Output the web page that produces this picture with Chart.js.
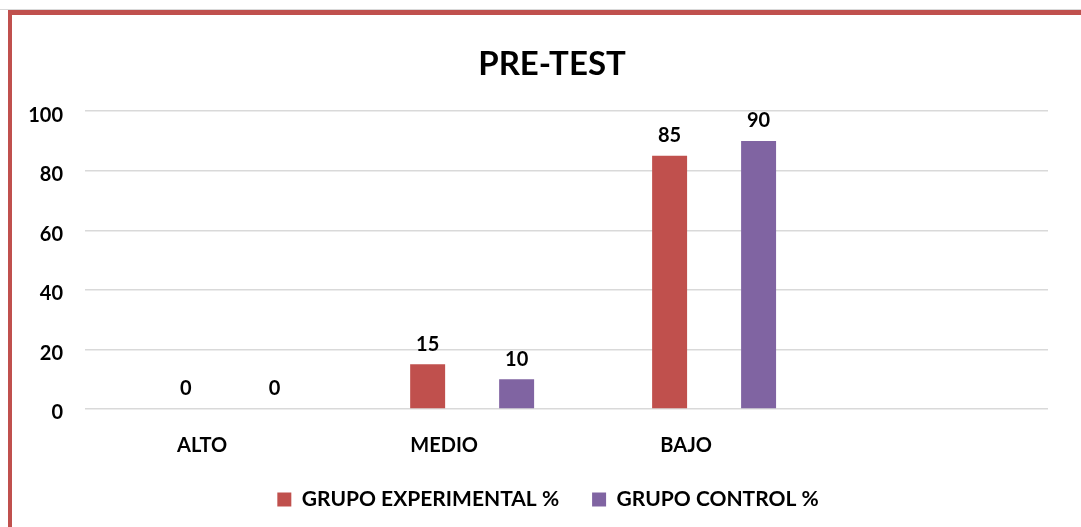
<!DOCTYPE html>
<html>
<head>
<meta charset="utf-8">
<script src="https://cdn.jsdelivr.net/npm/chart.js@4/dist/chart.umd.min.js"></script>
<style>
  html, body { margin: 0; padding: 0; background: #ffffff; overflow: hidden; }
  #wrap { position: relative; width: 1081px; height: 527px; }
  #frameGray { position: absolute; left: 0; top: 9px; width: 1081px; height: 0; border-top: 1px solid #d9d9d9; }
  #frameRed { position: absolute; left: 8px; top: 10px; width: 1200px; height: 700px;
              border-left: 4px solid #C0504D; border-top: 5px solid #C0504D; }
  canvas { position: absolute; left: 0; top: 0; }
</style>
</head>
<body>
<div id="wrap">
  <div id="frameGray"></div>
  <div id="frameRed"></div>
  <canvas id="c" width="1081" height="527"></canvas>
</div>
<script>
const chartTitle = 'PRE-TEST';
const categories = ['ALTO', 'MEDIO', 'BAJO'];
const seriesNames = ['GRUPO EXPERIMENTAL %', 'GRUPO CONTROL %'];
const experimental = [0, 15, 85];
const control = [0, 10, 90];
const yTicks = [0, 20, 40, 60, 80, 100];

const FONT = 'Lato, "Noto Sans", sans-serif';

const valueLabels = {
  id: 'valueLabels',
  afterDatasetsDraw(chart) {
    const ctx = chart.ctx;
    ctx.save();
    ctx.font = 'bold 20px ' + FONT;
    ctx.fillStyle = '#000';
    ctx.textAlign = 'center';
    ctx.textBaseline = 'middle';
    chart.data.datasets.forEach((ds, i) => {
      const meta = chart.getDatasetMeta(i);
      meta.data.forEach((el, j) => {
        ctx.fillText(String(ds.data[j].y), el.x, el.y - 20);
      });
    });
    ctx.restore();
  }
};

// Shift title / legend blocks so they are centred like the reference
const blockShift = {
  id: 'blockShift',
  afterLayout(chart) {
    if (chart.titleBlock) { chart.titleBlock.left += 18; chart.titleBlock.right += 18; }
    if (chart.legend) { chart.legend.left += 14; chart.legend.right += 14; }
  }
};

function build() {
  new Chart(document.getElementById('c'), {
    type: 'bar',
    data: {
      datasets: [
        { label: seriesNames[0], data: experimental.map((v, i) => ({ x: i, y: v })),
          backgroundColor: '#C0504D', borderWidth: 0 },
        { label: seriesNames[1], data: control.map((v, i) => ({ x: i, y: v })),
          backgroundColor: '#8064A2', borderWidth: 0 }
      ]
    },
    options: {
      responsive: false,
      animation: false,
      events: [],
      categoryPercentage: 0.7355,
      barPercentage: 0.393,
      layout: { padding: { left: 20, right: 33, top: 0, bottom: 7 } },
      scales: {
        x: {
          type: 'linear',
          offset: false,
          min: -0.6,
          max: 3.38,
          grid: { display: false, offset: false },
          border: { display: false },
          afterFit(s) { s.height = 47; },
          ticks: {
            stepSize: 1,
            includeBounds: false,
            autoSkip: false,
            maxRotation: 0,
            padding: 17,
            labelOffset: -28,
            color: '#000',
            font: { family: FONT, size: 20, weight: 'bold' },
            callback: (v) => (categories[v] !== undefined ? categories[v] : '')
          }
        },
        y: {
          min: yTicks[0],
          max: yTicks[yTicks.length - 1],
          afterFit(s) { s.width = 65; },
          border: { display: false },
          grid: { color: '#d9d9d9', lineWidth: 1.5, drawTicks: false },
          ticks: {
            stepSize: 20,
            padding: 22,
            labelOffset: 4,
            color: '#000',
            font: { family: FONT, size: 20, weight: 'bold' }
          }
        }
      },
      plugins: {
        title: {
          display: true,
          text: chartTitle,
          color: '#000',
          font: { family: FONT, size: 33, weight: 'bold' },
          padding: { top: 45, bottom: 26.5 }
        },
        legend: {
          position: 'bottom',
          labels: {
            boxWidth: 14,
            boxHeight: 14,
            padding: 33,
            color: '#000',
            font: { family: FONT, size: 21, weight: 'bold' }
          }
        },
        tooltip: { enabled: false }
      }
    },
    plugins: [valueLabels, blockShift]
  });
}

if (document.fonts && document.fonts.load) {
  Promise.all([
    document.fonts.load('bold 20px Lato'),
    document.fonts.load('bold 21px Lato'),
    document.fonts.load('bold 33px Lato')
  ]).then(build, build);
} else {
  build();
}
</script>
</body>
</html>
